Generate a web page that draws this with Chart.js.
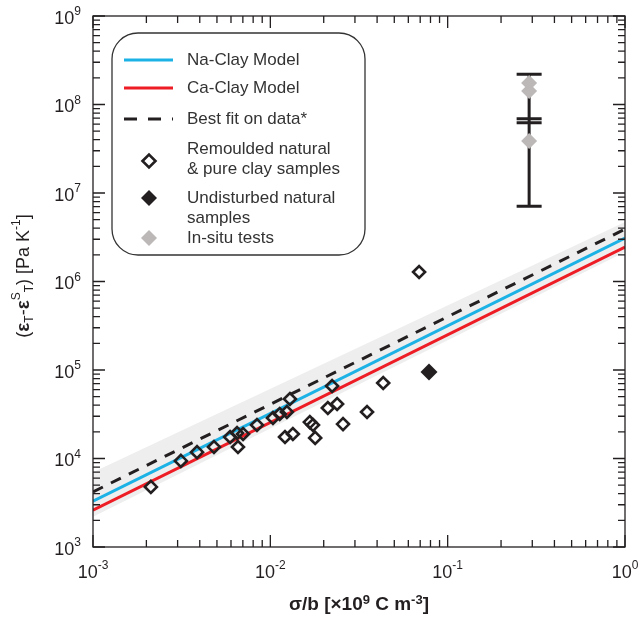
<!DOCTYPE html>
<html>
<head>
<meta charset="utf-8">
<script src="https://cdn.jsdelivr.net/npm/chart.js@4"></script>
<style>
  body { margin: 0; background: #fff; }
  canvas { display: block; }
</style>
</head>
<body>
<canvas id="chart" width="641" height="619"></canvas>
<script>
// x: sigma/b [x1e9 C m-3], y: (eT - eST) [Pa K-1]
const lineX = [1e-3, 1];
const naClayY = [3.3e3, 3.1e6];
const caClayY = [2.6e3, 2.45e6];
const bestFitY = [4.2e3, 3.9e6];
const bandLowY = [2.2e3, 2.15e6];
const bandHighY = [7.0e3, 4.7e6];

const remouldedX = [2.12e-3, 3.13e-3, 3.86e-3, 4.81e-3, 5.93e-3, 6.49e-3, 7.02e-3, 6.57e-3,
  8.41e-3, 1.035e-2, 1.13e-2, 1.24e-2, 1.29e-2, 1.21e-2, 1.34e-2, 1.67e-2, 1.74e-2, 1.79e-2,
  2.11e-2, 2.38e-2, 2.23e-2, 2.57e-2, 3.51e-2, 4.33e-2, 6.9e-2];
const remouldedY = [4.77e3, 9.4e3, 1.18e4, 1.35e4, 1.75e4, 1.94e4, 1.89e4, 1.35e4,
  2.39e4, 2.87e4, 3.18e4, 3.35e4, 4.7e4, 1.75e4, 1.89e4, 2.58e4, 2.39e4, 1.71e4,
  3.72e4, 4.13e4, 6.6e4, 2.45e4, 3.35e4, 7.13e4, 1.28e6];

const undisturbedX = [7.85e-2];
const undisturbedY = [9.5e4];

const inSituX = [0.288, 0.288, 0.288];
const inSituY = [1.75e8, 1.42e8, 3.87e7];

const errX = 0.288;
const errLow = 7.1e6;
const errHigh = 2.2e8;
const errMid = [6.9e7, 6.2e7];

const xDecades = [-3, -2, -1, 0];
const yDecades = [3, 4, 5, 6, 7, 8, 9];

const FONT = "'Liberation Sans', Arial, Helvetica, sans-serif";
const INK = "#231f20";

function pts(xs, ys) {
  return xs.map((x, i) => ({ x, y: ys[i] }));
}

function drawPow(ctx, exp, x, y, align) {
  const big = "18px " + FONT, small = "12px " + FONT;
  ctx.font = big;
  const w1 = ctx.measureText("10").width;
  ctx.font = small;
  const e = String(exp);
  const w2 = ctx.measureText(e).width;
  let left = align === "right" ? x - w1 - w2 : x - (w1 + w2) / 2;
  ctx.fillStyle = INK;
  ctx.textBaseline = "middle";
  ctx.textAlign = "left";
  ctx.font = big;
  ctx.fillText("10", left, y);
  ctx.font = small;
  ctx.fillText(e, left + w1, y - 7);
}

// text runs: [text, font, dy]
function drawRuns(ctx, runs, x, y) {
  let total = 0;
  runs.forEach((r) => { ctx.font = r[1]; total += ctx.measureText(r[0]).width; });
  let cx = x - total / 2;
  ctx.textAlign = "left";
  ctx.textBaseline = "middle";
  runs.forEach((r) => {
    ctx.font = r[1];
    ctx.fillText(r[0], cx, y + r[2]);
    cx += ctx.measureText(r[0]).width;
  });
}

function diamond(ctx, x, y, r, fill, stroke, lw) {
  ctx.beginPath();
  ctx.moveTo(x - r, y);
  ctx.lineTo(x, y - r);
  ctx.lineTo(x + r, y);
  ctx.lineTo(x, y + r);
  ctx.closePath();
  if (fill) { ctx.fillStyle = fill; ctx.fill(); }
  if (stroke) { ctx.strokeStyle = stroke; ctx.lineWidth = lw; ctx.stroke(); }
}

const errorBarPlugin = {
  id: "errorBar",
  beforeDatasetsDraw(chart) {
    const { ctx, scales: { x, y } } = chart;
    const px = x.getPixelForValue(errX);
    const cap = 12.5;
    ctx.save();
    ctx.strokeStyle = INK;
    ctx.lineWidth = 3;
    ctx.beginPath();
    ctx.moveTo(px, y.getPixelForValue(errLow));
    ctx.lineTo(px, y.getPixelForValue(errHigh));
    [errLow, errHigh, ...errMid].forEach((v) => {
      const py = y.getPixelForValue(v);
      ctx.moveTo(px - cap, py);
      ctx.lineTo(px + cap, py);
    });
    ctx.stroke();
    ctx.restore();
  },
};

const framePlugin = {
  id: "frame",
  afterDraw(chart) {
    const { ctx, chartArea: a, scales: { x, y } } = chart;
    ctx.save();
    ctx.strokeStyle = INK;
    ctx.lineWidth = 1.3;
    ctx.strokeRect(a.left, a.top, a.right - a.left, a.bottom - a.top);

    ctx.beginPath();
    xDecades.forEach((d) => {
      for (let k = 1; k <= 9; k++) {
        const v = k * Math.pow(10, d);
        if (v > 1.0001) break;
        const px = x.getPixelForValue(v);
        const len = k === 1 ? 12 : 7;
        ctx.moveTo(px, a.bottom); ctx.lineTo(px, a.bottom - len);
        ctx.moveTo(px, a.top); ctx.lineTo(px, a.top + len);
      }
    });
    yDecades.forEach((d) => {
      for (let k = 1; k <= 9; k++) {
        const v = k * Math.pow(10, d);
        if (v > 1.0001e9) break;
        const py = y.getPixelForValue(v);
        const len = k === 1 ? 12 : 7;
        ctx.moveTo(a.left, py); ctx.lineTo(a.left + len, py);
        ctx.moveTo(a.right, py); ctx.lineTo(a.right - len, py);
      }
    });
    ctx.stroke();

    xDecades.forEach((d) => drawPow(ctx, d, x.getPixelForValue(Math.pow(10, d)), a.bottom + 26, "center"));
    yDecades.forEach((d) => drawPow(ctx, d, a.left - 12, y.getPixelForValue(Math.pow(10, d)) + 3, "right"));

    // axis titles
    ctx.fillStyle = INK;
    const bold = "bold 19px " + FONT, bsup = "bold 13px " + FONT;
    drawRuns(ctx, [["σ/b [×10", bold, 0], ["9", bsup, -5], [" C m", bold, 0],
      ["-3", bsup, -5], ["]", bold, 0]], (a.left + a.right) / 2, 605);

    const reg = "18px " + FONT, sup = "12px " + FONT, eps = "bold 19px " + FONT;
    ctx.save();
    ctx.translate(24, 276);
    ctx.rotate(-Math.PI / 2);
    drawRuns(ctx, [["(", reg, 0], ["ε", eps, 0], ["T", sup, 6], ["-", reg, 0],
      ["ε", eps, 0], ["S", sup, -7], ["T", sup, 6], [") [Pa K", reg, 0],
      ["-1", sup, -7], ["]", reg, 0]], 0, 0);
    ctx.restore();

    // legend box
    const L = 112, T = 33, R = 365, B = 255;
    ctx.beginPath();
    ctx.roundRect(L, T, R - L, B - T, 26);
    ctx.fillStyle = "#fff";
    ctx.fill();
    ctx.strokeStyle = "#333";
    ctx.lineWidth = 1.3;
    ctx.stroke();

    const ds = chart.data.datasets;
    const lines = [[ds[2], 60], [ds[3], 88], [ds[4], 119]];
    lines.forEach(([d, ly]) => {
      ctx.beginPath();
      ctx.strokeStyle = d.borderColor;
      ctx.lineWidth = 3;
      ctx.setLineDash(d.borderDash ? [13, 11] : []);
      ctx.moveTo(124, ly);
      ctx.lineTo(173, ly);
      ctx.stroke();
      ctx.setLineDash([]);
    });
    diamond(ctx, 149, 161, 6.5, null, INK, 2.6);
    diamond(ctx, 149, 198, 8, INK, null, 0);
    diamond(ctx, 149, 238, 8, ds[7].backgroundColor, null, 0);

    ctx.fillStyle = "#333";
    ctx.font = "17px " + FONT;
    ctx.textAlign = "left";
    ctx.textBaseline = "middle";
    const texts = [["Na-Clay Model", 60], ["Ca-Clay Model", 88], ["Best fit on data*", 119],
      ["Remoulded natural", 149], ["& pure clay samples", 169], ["Undisturbed natural", 198],
      ["samples", 218], ["In-situ tests", 238]];
    texts.forEach(([t, ty]) => ctx.fillText(t, 187, ty));
    ctx.restore();
  },
};

new Chart(document.getElementById("chart").getContext("2d"), {
  type: "line",
  data: {
    datasets: [
      {
        label: "band low",
        data: pts(lineX, bandLowY),
        borderWidth: 0,
        pointRadius: 0,
        fill: false,
        order: 20,
      },
      {
        label: "band high",
        data: pts(lineX, bandHighY),
        borderWidth: 0,
        pointRadius: 0,
        backgroundColor: "#eeeeee",
        fill: "-1",
        order: 19,
      },
      {
        label: "Na-Clay Model",
        data: pts(lineX, naClayY),
        borderColor: "#1cb2e6",
        borderWidth: 3,
        pointRadius: 0,
        order: 11,
      },
      {
        label: "Ca-Clay Model",
        data: pts(lineX, caClayY),
        borderColor: "#ee1c24",
        borderWidth: 3,
        pointRadius: 0,
        order: 10,
      },
      {
        label: "Best fit on data*",
        data: pts(lineX, bestFitY),
        borderColor: INK,
        borderWidth: 3,
        borderDash: [11, 9],
        pointRadius: 0,
        order: 9,
      },
      {
        label: "Remoulded natural & pure clay samples",
        data: pts(remouldedX, remouldedY),
        showLine: false,
        pointStyle: "rectRot",
        pointRadius: 6,
        pointBorderWidth: 2.6,
        pointBorderColor: INK,
        pointBackgroundColor: "rgba(0,0,0,0)",
        order: 3,
      },
      {
        label: "Undisturbed natural samples",
        data: pts(undisturbedX, undisturbedY),
        showLine: false,
        pointStyle: "rectRot",
        pointRadius: 8.5,
        pointBorderWidth: 0,
        pointBackgroundColor: INK,
        order: 2,
      },
      {
        label: "In-situ tests",
        data: pts(inSituX, inSituY),
        showLine: false,
        pointStyle: "rectRot",
        pointRadius: 8,
        pointBorderWidth: 0,
        backgroundColor: "#bdb8b8",
        pointBackgroundColor: "#bdb8b8",
        order: 1,
      },
    ],
  },
  options: {
    responsive: false,
    animation: false,
    layout: { padding: { left: 93, top: 16, right: 16, bottom: 72 } },
    scales: {
      x: { type: "logarithmic", min: 1e-3, max: 1, display: false },
      y: { type: "logarithmic", min: 1e3, max: 1e9, display: false },
    },
    plugins: {
      legend: { display: false },
      tooltip: { enabled: false },
    },
  },
  plugins: [errorBarPlugin, framePlugin],
});
</script>
</body>
</html>
